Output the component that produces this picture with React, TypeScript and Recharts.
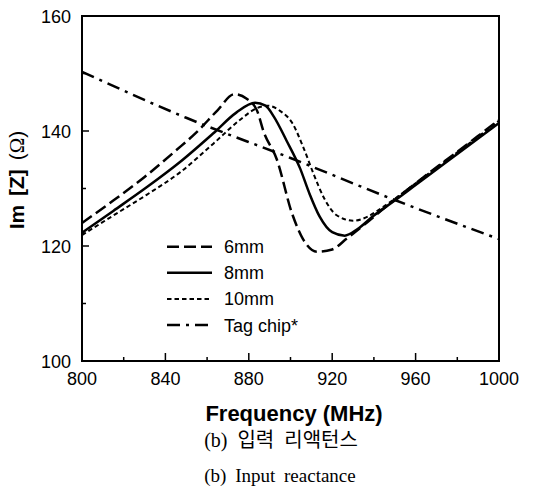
import React from "react";
import { LineChart, Line, XAxis, YAxis, ReferenceArea, Legend, Label } from "recharts";

// Im[Z] vs frequency
const freq6 = [800, 815, 830, 845, 855, 865, 873, 879, 884, 887, 893.5, 900.7, 906, 912.7, 920, 927, 935, 945, 960, 980, 1000];
const im6 = [124.0, 127.9, 132.0, 136.6, 139.8, 143.6, 146.4, 145.6, 143.5, 140.0, 135.0, 125.7, 121.2, 119.0, 119.4, 121.3, 123.6, 126.6, 130.9, 136.4, 141.9];

const freq8 = [800, 815, 831, 847, 863, 874, 883, 888, 892, 898, 904.6, 909, 914, 920, 926, 932, 940, 950, 960, 970, 980, 990, 1000];
const im8 = [122.3, 126.1, 130.2, 134.6, 139.6, 143.2, 144.9, 144.4, 142.5, 138.4, 133.5, 129.2, 125.1, 122.4, 121.8, 122.9, 125.3, 127.9, 130.6, 133.3, 136.0, 138.7, 141.4];

const freq10 = [800, 815, 831, 847, 863, 876, 884, 889, 895, 901, 906, 911, 916, 922, 930, 937, 942, 950, 960, 970, 980, 990, 1000];
const im10 = [121.9, 125.3, 128.9, 132.8, 137.8, 142.0, 144.0, 144.4, 143.5, 141.3, 137.3, 132.6, 128.4, 125.4, 124.4, 125.1, 126.2, 128.2, 130.9, 133.6, 136.3, 139.0, 141.8];

const freqChip = [800, 850, 900, 950, 1000];
const imChip = [150.3, 142.3, 135.3, 128.0, 121.2];

const xTicks = [800, 820, 840, 860, 880, 900, 920, 940, 960, 980, 1000];
const yTicks = [100, 110, 120, 130, 140, 150, 160];

const toPoints = (fs: number[], vs: number[]) => fs.map((f, i) => ({ f, v: vs[i] }));

const series = [
  { name: "6mm", data: toPoints(freq6, im6), dash: "12 5", width: 2.5 },
  { name: "8mm", data: toPoints(freq8, im8), dash: undefined, width: 2.5 },
  { name: "10mm", data: toPoints(freq10, im10), dash: "4.5 3", width: 2 },
  { name: "Tag chip*", data: toPoints(freqChip, imChip), dash: "13 6 3 6", width: 2.5 },
];

const SANS = "'Liberation Sans', Arial, sans-serif";
const SERIF = "'Liberation Serif', 'Noto Sans CJK KR', serif";
const TICK_MARGIN = 10;

const XTick = (props: any) => {
  const { x, y, payload } = props;
  const axisY = y - TICK_MARGIN;
  const major = payload.value % 40 === 0;
  return (
    <g>
      <line x1={x} x2={x} y1={axisY} y2={axisY - (major ? 8 : 4)} stroke="#000" strokeWidth={1.5} />
      {major && (
        <text x={x} y={axisY + 24} textAnchor="middle" fontFamily={SANS} fontSize={18} fill="#000">
          {payload.value}
        </text>
      )}
    </g>
  );
};

const YTick = (props: any) => {
  const { x, y, payload } = props;
  const axisX = x + TICK_MARGIN;
  const major = payload.value % 20 === 0;
  return (
    <g>
      <line x1={axisX} x2={axisX + (major ? 7 : 4)} y1={y} y2={y} stroke="#000" strokeWidth={1.5} />
      {major && (
        <text x={axisX - 11} y={y + 6.5} textAnchor="end" fontFamily={SANS} fontSize={18} fill="#000">
          {payload.value}
        </text>
      )}
    </g>
  );
};

const renderLegend = () => (
  <svg width={160} height={110} style={{ display: "block" }}>
    {series.map((s, i) => {
      const cy = 12.7 + i * 26.1;
      return (
        <g key={s.name}>
          <line x1={7} x2={52} y1={cy} y2={cy} stroke="#000" strokeWidth={s.width} strokeDasharray={s.dash} />
          <text x={64} y={cy + 6.5} fontFamily={SANS} fontSize={18} fill="#000">
            {s.name}
          </text>
        </g>
      );
    })}
  </svg>
);

const renderXLabel = () => (
  <g>
    <text x={294} y={421} textAnchor="middle" fontFamily={SANS} fontWeight="bold" fontSize={22} fill="#000">
      Frequency (MHz)
    </text>
    <text x={281} y={447} textAnchor="middle" fontFamily={SERIF} fontSize={20} fill="#000" wordSpacing={5}>
      (b) 입력 리액턴스
    </text>
    <text x={280} y={482} textAnchor="middle" fontFamily={SERIF} fontSize={19} fill="#000" wordSpacing={4}>
      (b) Input reactance
    </text>
  </g>
);

const renderYLabel = () => (
  <text x={24} y={180} transform="rotate(-90 24 180)" textAnchor="middle" fontFamily={SANS} fontSize={21} fill="#000" wordSpacing={3}>
    <tspan fontWeight="bold">Im [Z]</tspan>
    <tspan> (</tspan>
    <tspan fontFamily={SERIF}>Ω</tspan>
    <tspan>)</tspan>
  </text>
);

export default function App() {
  return (
    <div style={{ width: 533, height: 492, background: "#fff" }}>
      <style>{`body { margin: 0; }`}</style>
      <LineChart width={533} height={492} margin={{ top: 16, right: 34, bottom: 0, left: 0 }}>
        <XAxis
          type="number"
          dataKey="f"
          domain={[800, 1000]}
          ticks={xTicks}
          interval={0}
          tickSize={0}
          tickMargin={TICK_MARGIN}
          tickLine={false}
          axisLine={false}
          tick={<XTick />}
          height={131}
        >
          <Label content={renderXLabel} />
        </XAxis>
        <YAxis
          type="number"
          domain={[100, 160]}
          ticks={yTicks}
          interval={0}
          tickSize={0}
          tickMargin={TICK_MARGIN}
          tickLine={false}
          axisLine={false}
          tick={<YTick />}
          width={82}
        >
          <Label content={renderYLabel} />
        </YAxis>
        {series.map((s) => (
          <Line
            key={s.name}
            data={s.data}
            dataKey="v"
            name={s.name}
            type="monotone"
            stroke="#000"
            strokeWidth={s.width}
            strokeDasharray={s.dash}
            dot={false}
            activeDot={false}
            isAnimationActive={false}
          />
        ))}
        <ReferenceArea x1={800} x2={1000} y1={100} y2={160} fill="none" stroke="#000" strokeWidth={2} ifOverflow="visible" />
        <Legend
          layout="horizontal"
          verticalAlign="middle"
          align="center"
          content={renderLegend}
          wrapperStyle={{ position: "absolute", left: 160, top: 234, width: 160 }}
        />
      </LineChart>
    </div>
  );
}
